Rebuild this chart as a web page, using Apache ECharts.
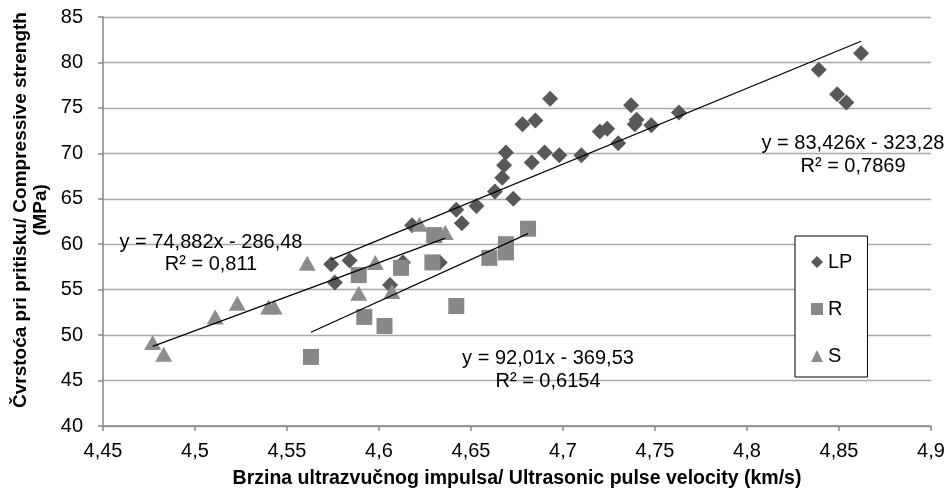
<!DOCTYPE html>
<html>
<head>
<meta charset="utf-8">
<script src="https://cdn.jsdelivr.net/npm/echarts@6/dist/echarts.min.js"></script>
<style>
  html, body { margin: 0; padding: 0; background: #fff; }
  #chart { width: 950px; height: 494px; }
</style>
</head>
<body>
<div id="chart"></div>
<script>
// LP (diamonds)
var lpX = [4.574, 4.576, 4.584, 4.606, 4.613, 4.618, 4.633, 4.642, 4.645, 4.653, 4.663, 4.667, 4.668, 4.669, 4.673, 4.678, 4.683, 4.685, 4.690, 4.693, 4.698, 4.710, 4.720, 4.724, 4.730, 4.737, 4.739, 4.740, 4.748, 4.763, 4.839, 4.849, 4.854, 4.862];
var lpY = [57.8, 55.8, 58.2, 55.5, 58.0, 62.1, 58.0, 63.8, 62.3, 64.2, 65.8, 67.3, 68.7, 70.1, 65.0, 73.2, 69.0, 73.6, 70.1, 76.0, 69.8, 69.8, 72.4, 72.7, 71.1, 75.3, 73.2, 73.7, 73.1, 74.5, 79.2, 76.5, 75.6, 81.0];
// R (squares)
var rX = [4.563, 4.589, 4.592, 4.603, 4.612, 4.629, 4.630, 4.642, 4.660, 4.669, 4.669, 4.681];
var rY = [47.6, 56.6, 52.0, 51.0, 57.4, 58.0, 61.0, 53.2, 58.5, 60.0, 59.1, 61.7];
// S (triangles)
var sX = [4.477, 4.483, 4.511, 4.523, 4.540, 4.543, 4.561, 4.589, 4.598, 4.607, 4.622, 4.636];
var sY = [49.2, 47.9, 52.0, 53.5, 53.1, 53.1, 57.9, 54.6, 58.0, 54.8, 62.2, 61.3];

// linear trend lines as printed on the chart: [slope, intercept]
var trendLP = [83.426, -323.28];
var trendR = [92.01, -369.53];
var trendS = [74.882, -286.48];

var eqLP = ['y = 83,426x - 323,28', 'R² = 0,7869'];
var eqR = ['y = 92,01x - 369,53', 'R² = 0,6154'];
var eqS = ['y = 74,882x - 286,48', 'R² = 0,811'];

var xTicks = ['4,45', '4,5', '4,55', '4,6', '4,65', '4,7', '4,75', '4,8', '4,85', '4,9'];

function pairs(xs, ys) {
    return xs.map(function (x, i) { return [x, ys[i]]; });
}
function trend(xs, c) {
    var a = Math.min.apply(null, xs), b = Math.max.apply(null, xs);
    return [[a, c[0] * a + c[1]], [b, c[0] * b + c[1]]];
}
function eqText(x, y, t) {
    return {
        type: 'text', x: x, y: y, z: 10,
        style: { text: t, fontFamily: FONT, fontSize: 20, fill: '#000', align: 'center', verticalAlign: 'middle' }
    };
}

var FONT = 'Liberation Sans, Arial, sans-serif';
var myChart = echarts.init(document.getElementById('chart'));

var option = {
    animation: false,
    grid: { left: 103, right: 19, top: 17, bottom: 66 },
    legend: {
        data: ['LP', 'R', 'S'],
        orient: 'vertical',
        left: 795,
        top: 236,
        padding: [16, 15, 11, 16],
        itemGap: 27,
        itemWidth: 12,
        itemHeight: 12,
        itemStyle: { borderWidth: 0 },
        borderColor: '#000',
        borderWidth: 1,
        backgroundColor: '#fff',
        textStyle: { fontFamily: FONT, fontSize: 20, color: '#000' }
    },
    xAxis: {
        type: 'value',
        min: 4.45,
        max: 4.9,
        interval: 0.05,
        name: 'Brzina ultrazvučnog impulsa/ Ultrasonic pulse velocity (km/s)',
        nameLocation: 'middle',
        nameGap: 43,
        nameTextStyle: { fontFamily: FONT, fontSize: 19.5, fontWeight: 'bold', color: '#000' },
        axisLine: { lineStyle: { color: '#868686', width: 1.5 } },
        axisTick: { show: true, length: 5, lineStyle: { color: '#868686', width: 1.5 } },
        axisLabel: {
            margin: 15,
            fontFamily: FONT, fontSize: 20, color: '#000',
            formatter: function (v) {
                return xTicks[Math.round((v - 4.45) / 0.05)];
            }
        },
        splitLine: { show: false }
    },
    yAxis: {
        type: 'value',
        min: 40,
        max: 85,
        interval: 5,
        axisLine: { show: true, lineStyle: { color: '#868686', width: 1.5 } },
        axisTick: { show: true, length: 5, lineStyle: { color: '#868686', width: 1.5 } },
        axisLabel: { margin: 20, fontFamily: FONT, fontSize: 20, color: '#000' },
        splitLine: { show: true, lineStyle: { color: '#a8a8a8', width: 1.3 } }
    },
    graphic: [
        {
            type: 'text', x: 31, y: 210, rotation: Math.PI / 2,
            style: {
                text: 'Čvrstoća pri pritisku/ Compressive strength\n(MPa)',
                fontFamily: FONT, fontSize: 19, fontWeight: 'bold', fill: '#000',
                align: 'center', verticalAlign: 'middle', lineHeight: 20
            }
        },
        eqText(211, 242, eqS[0]),
        eqText(211, 264, eqS[1]),
        eqText(548, 358, eqR[0]),
        eqText(548, 381, eqR[1]),
        eqText(853, 143, eqLP[0]),
        eqText(853, 166, eqLP[1])
    ],
    series: [
        {
            name: 'LP', type: 'scatter', z: 2,
            symbol: 'diamond', symbolSize: 16,
            itemStyle: { color: '#585858', opacity: 1 },
            data: pairs(lpX, lpY)
        },
        {
            name: 'R', type: 'scatter', z: 3,
            symbol: 'rect', symbolSize: 16,
            itemStyle: { color: '#888888', opacity: 1 },
            data: pairs(rX, rY)
        },
        {
            name: 'S', type: 'scatter', z: 4,
            symbol: 'triangle', symbolSize: [17, 15],
            itemStyle: { color: '#8c8c8c', opacity: 1 },
            data: pairs(sX, sY)
        },
        {
            name: 'trendLP', type: 'line', z: 5, silent: true, symbol: 'none',
            lineStyle: { color: '#000', width: 1.2 },
            data: trend(lpX, trendLP)
        },
        {
            name: 'trendR', type: 'line', z: 5, silent: true, symbol: 'none',
            lineStyle: { color: '#000', width: 1.2 },
            data: trend(rX, trendR)
        },
        {
            name: 'trendS', type: 'line', z: 5, silent: true, symbol: 'none',
            lineStyle: { color: '#000', width: 1.2 },
            data: trend(sX, trendS)
        }
    ]
};
myChart.setOption(option);
</script>
</body>
</html>
